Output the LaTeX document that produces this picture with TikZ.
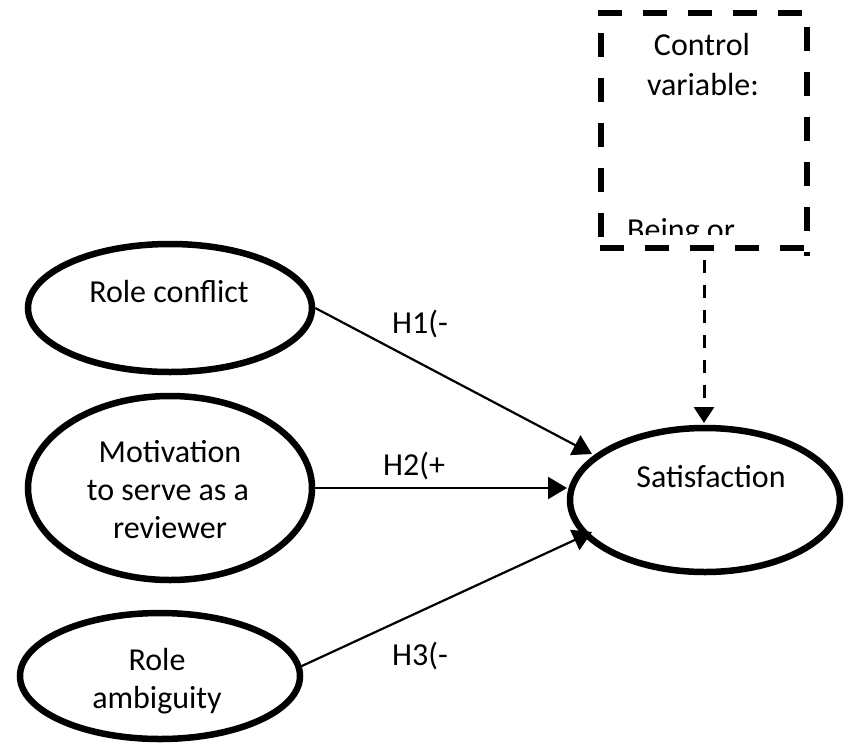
\documentclass[tikz,border=0pt]{standalone}
\usepackage{fontspec}
\setmainfont{Carlito}
\usetikzlibrary{arrows.meta,shapes.geometric}
\begin{document}
\begin{tikzpicture}[x=1pt,y=-1pt,
  oval/.style={draw,ellipse,line width=6.5pt,inner sep=0pt},
  txt/.style={inner sep=0pt,anchor=base,font=\fontsize{32}{38}\selectfont},
  arr/.style={line width=2.2pt,-{Triangle[length=19pt,width=22pt]}},
  boxside/.style={line width=5.5pt,dash pattern=on 24pt off 21pt}]
\useasboundingbox (0,0) rectangle (846,744);
% ellipses
\node[oval,minimum width=284pt,minimum height=128pt] (rc) at (170,308) {};
\node[oval,minimum width=284pt,minimum height=184pt] (mot) at (170,488) {};
\node[oval,minimum width=280pt,minimum height=126pt] (ra) at (160,676) {};
\node[oval,minimum width=270pt,minimum height=144pt] (sat) at (705,500) {};
% texts
\node[txt] (rct) at (169,302) {Role conflict};
\node[txt] (mot1) at (170,462) {Motivation};
\node[txt] (mot2) at (168,500) {to serve as a};
\node[txt] (mot3) at (170,538) {reviewer};
\node[txt] (ra1) at (157,670) {Role};
\node[txt] (ra2) at (157,708) {ambiguity};
\node[txt] (satt) at (711,487) {Satisfaction};
% control box
\node[inner sep=0pt,minimum width=206pt,minimum height=235pt] (cv) at (704,130.5) {};
\draw[boxside] ([xshift=-3pt]cv.north west) -- ([xshift=2pt]cv.north east);
\draw[boxside] ([xshift=-1pt]cv.south west) -- ([xshift=2pt]cv.south east);
\draw[boxside,dash phase=25pt] (cv.north west) -- ([yshift=-8pt]cv.south west);
\draw[boxside,dash phase=31pt] (cv.north east) -- ([yshift=-8pt]cv.south east);
\node[txt] (cv1) at (702,55) {Control};
\node[txt] (cv2) at (703,95) {variable:};
\begin{scope}
\clip (600,0) rectangle (806,234);
\node[txt,anchor=base west] (cv3) at (627,240) {Being or};
\end{scope}
% connectors
\coordinate (t1) at (592,454);
\coordinate (t2) at (567,488);
\coordinate (t3) at (592,532);
\coordinate (t4) at (704,423);
\draw[arr] (rc.east) -- (t1);
\draw[arr] (mot.east) -- (t2);
\draw[arr] (ra.4) -- (t3);
\draw[line width=3pt,dash pattern=on 13pt off 12pt,dash phase=13pt,-{Triangle[length=16pt,width=20pt]}] (cv.south) -- (t4);
% labels
\node[txt,anchor=base west] (h1) at (392,333) {H1(-};
\node[txt,anchor=base west] (h2) at (383,475) {H2(+};
\node[txt,anchor=base west] (h3) at (392,665) {H3(-};
\end{tikzpicture}
\end{document}
